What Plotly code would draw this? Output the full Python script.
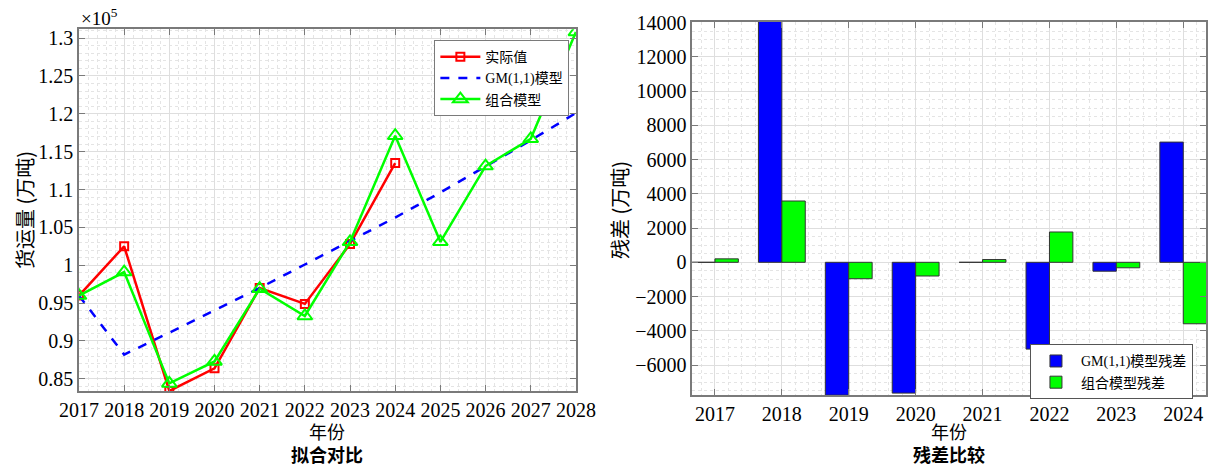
import plotly.graph_objects as go

# ---- data (万吨) ----
years_fit = [2017, 2018, 2019, 2020, 2021, 2022, 2023, 2024]
years_all = [2017, 2018, 2019, 2020, 2021, 2022, 2023, 2024, 2025, 2026, 2027, 2028]

actual = [96000, 102500, 83400, 86400, 97000, 94900, 102800, 113500]
gm_model = [96000, 88200, 91100, 94000, 97000, 100100, 103200, 106300,
            109600, 113000, 116500, 120100]
combined = [96000, 99100, 84400, 87300, 96900, 93300, 103100, 117100,
            103100, 113100, 116700, 130800]

gm_resid = [0, 14300, -7760, -7640, 0, -5070, -520, 7020]
comb_resid = [200, 3580, -960, -800, 160, 1770, -320, -3590]

SCALE = 1e5

SERIF = "Liberation Serif, Noto Sans CJK SC, serif"
CJK = "Noto Sans CJK SC, sans-serif"
GRID = "#dedede"
MINOR = "#e4e4e4"
AXIS = "#7a7a7a"

fig = go.Figure()

# left panel: fitted series
fig.add_trace(go.Scatter(
    x=years_fit, y=[v / SCALE for v in actual], name="实际值",
    mode="lines+markers", line=dict(color="#ff0000", width=2.5),
    marker=dict(symbol="square-open", size=8, color="#ff0000", line=dict(width=2)),
    xaxis="x", yaxis="y", legend="legend"))
fig.add_trace(go.Scatter(
    x=years_all, y=[v / SCALE for v in gm_model], name="GM(1,1)模型",
    mode="lines", line=dict(color="#0000ff", width=2.5, dash="dash"),
    xaxis="x", yaxis="y", legend="legend"))
fig.add_trace(go.Scatter(
    x=years_all, y=[v / SCALE for v in combined], name="组合模型",
    mode="lines+markers", line=dict(color="#00ff00", width=2.5),
    marker=dict(symbol="triangle-up-open", size=13, color="#00ff00", line=dict(width=2)),
    xaxis="x", yaxis="y", legend="legend"))

# right panel: residual bars
fig.add_trace(go.Bar(
    x=years_fit, y=gm_resid, name="GM(1,1)模型残差",
    marker=dict(color="#0000ff", line=dict(color="#333333", width=1)),
    xaxis="x2", yaxis="y2", legend="legend2"))
fig.add_trace(go.Bar(
    x=years_fit, y=comb_resid, name="组合模型残差",
    marker=dict(color="#00ff00", line=dict(color="#333333", width=1)),
    xaxis="x2", yaxis="y2", legend="legend2"))

def axis_style(**kw):
    base = dict(
        automargin=False,
        showline=True, linecolor=AXIS, linewidth=1.5, mirror="allticks",
        ticks="inside", ticklen=6, tickcolor=AXIS,
        showgrid=True, gridcolor=GRID, gridwidth=1,
        zeroline=False,
        tickfont=dict(family=SERIF, size=20, color="#000000"),
    )
    base.update(kw)
    return base

ytick1 = [round(0.85 + 0.05 * i, 2) for i in range(10)]
ytext1 = [f"{v:g}" for v in ytick1]

fig.update_layout(
    width=1215, height=466,
    margin=dict(l=0, r=0, t=0, b=0),
    paper_bgcolor="white", plot_bgcolor="white",
    barmode="group", bargap=0.3, bargroupgap=0,
    xaxis=axis_style(
        domain=[0.065, 0.474], anchor="y", range=[2017, 2028],
        tickmode="linear", tick0=2017, dtick=1,
        minor=dict(dtick=0.2, showgrid=True, gridcolor=MINOR, griddash="dot", ticklen=0)),
    yaxis=axis_style(
        domain=[0.161, 0.937], anchor="x", range=[0.834, 1.3115],
        tickmode="array", tickvals=ytick1, ticktext=ytext1,
        minor=dict(dtick=0.01, showgrid=True, gridcolor=MINOR, griddash="dot", ticklen=0)),
    xaxis2=axis_style(
        domain=[0.5697, 0.9926], anchor="y2", range=[2016.66, 2024.34],
        tickmode="linear", tick0=2017, dtick=1,
        minor=dict(dtick=0.2, tick0=2017, showgrid=True, gridcolor=MINOR, griddash="dot", ticklen=0)),
    yaxis2=axis_style(
        domain=[0.152, 0.953], anchor="x2", range=[-7760, 14040],
        tickmode="linear", tick0=0, dtick=2000, tickformat="d",
        minor=dict(dtick=500, showgrid=True, gridcolor=MINOR, griddash="dot", ticklen=0)),
    legend=dict(
        x=0.3575, y=0.914, xanchor="left", yanchor="top",
        bgcolor="white", bordercolor="#7a7a7a", borderwidth=1,
        font=dict(family=SERIF, size=14, color="#000000"),
        tracegroupgap=0, itemwidth=40),
    legend2=dict(
        x=0.8477, y=0.261, xanchor="left", yanchor="top",
        bgcolor="white", bordercolor="#555555", borderwidth=1,
        font=dict(family=SERIF, size=14, color="#000000"),
        tracegroupgap=0, itemwidth=40),
    showlegend=True,
)

# axis titles and panel captions (x label + bold caption stacked in one block)
annotations = [
    dict(text="×10<sup>5</sup>", x=79, y=17, anchor="left", font=dict(family=SERIF, size=19)),
    dict(text="货运量 (万吨)", x=24, y=210, textangle=-90, font=dict(family=CJK, size=20)),
    dict(text="年份<br><b>拟合对比</b>", x=327, y=442, font=dict(family=CJK, size=18)),
    dict(text="残差 (万吨)", x=619, y=210, textangle=-90, font=dict(family=CJK, size=20)),
    dict(text="年份<br><b>残差比较</b>", x=949, y=442, font=dict(family=CJK, size=18)),
]
for a in annotations:
    fig.add_annotation(
        text=a["text"], x=a["x"] / 1215, y=1 - a["y"] / 466,
        xref="paper", yref="paper", xanchor=a.get("anchor", "center"), yanchor="middle",
        showarrow=False, textangle=a.get("textangle", 0),
        font=dict(color="#000000", **a["font"]))

fig.write_html("out.html")
